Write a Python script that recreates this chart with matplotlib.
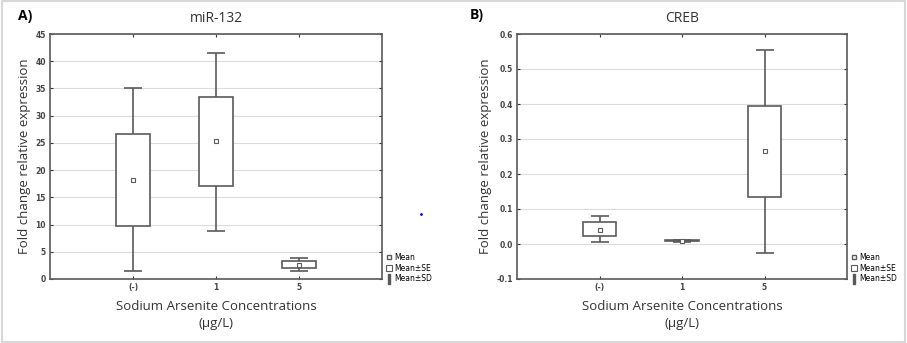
import matplotlib.pyplot as plt
from matplotlib.lines import Line2D
from matplotlib.patches import Rectangle

plt.rcParams['font.family'] = ['Open Sans', 'DejaVu Sans']

categories = ['(-)', '1', '5']

# miR-132
mir_mean = [18.2, 25.3, 2.6]
mir_se_lo = [9.8, 17.1, 2.1]
mir_se_hi = [26.7, 33.4, 3.3]
mir_sd_lo = [1.4, 8.9, 1.5]
mir_sd_hi = [35.0, 41.6, 3.9]

# CREB
creb_mean = [0.040, 0.009, 0.265]
creb_se_lo = [0.022, 0.008, 0.135]
creb_se_hi = [0.062, 0.011, 0.395]
creb_sd_lo = [0.005, 0.007, -0.027]
creb_sd_hi = [0.080, 0.012, 0.555]

edge = '#5a5a5a'

fig = plt.figure(figsize=(9.07, 3.43), dpi=100)
fig.patches.append(Rectangle((0.002, 0.004), 0.996, 0.992, transform=fig.transFigure,
                             fill=False, edgecolor='#d8d8d8', lw=1.5))


def draw_panel(ax, mean, se_lo, se_hi, sd_lo, sd_hi, ylim, yticks, yfmt):
    x = [1, 2, 3]
    yerr = [[m - l for m, l in zip(mean, sd_lo)], [h - m for m, h in zip(mean, sd_hi)]]
    ax.errorbar(x, mean, yerr=yerr, fmt='none', ecolor=edge, elinewidth=1.2,
                capsize=6.5, capthick=1.2, zorder=2)
    ax.bar(x, [h - l for h, l in zip(se_hi, se_lo)], bottom=se_lo, width=0.41,
           color='white', edgecolor=edge, linewidth=1.2, zorder=3)
    ax.plot(x, mean, 's', ms=3, mfc='white', mec=edge, mew=0.8, zorder=4)
    ax.set_xlim(0, 4)
    ax.set_ylim(*ylim)
    ax.set_xticks(x)
    ax.set_xticklabels(categories)
    ax.set_yticks(yticks)
    ax.set_yticklabels([yfmt.format(v) for v in yticks])
    ax.yaxis.grid(True, color='#dcdcdc', lw=0.8)
    ax.set_axisbelow(True)
    ax.tick_params(labelsize=5.5, length=2, width=0.8, colors='#333333',
                   top=True, right=True, direction='in', pad=3)
    for lbl in ax.get_xticklabels() + ax.get_yticklabels():
        lbl.set_fontfamily(['DejaVu Sans'])
        lbl.set_fontweight('bold')
        lbl.set_color('#444444')
    for s in ax.spines.values():
        s.set_color(edge)
        s.set_linewidth(1.2)
    ax.set_xlabel('Sodium Arsenite Concentrations\n(µg/L)', fontsize=9.5,
                  color='#333333', labelpad=6, linespacing=1.3)
    ax.set_ylabel('Fold change relative expression', fontsize=9.5,
                  color='#333333', labelpad=3)
    handles = [Line2D([], [], marker='s', ms=3, mfc='white', mec=edge, ls='none'),
               Rectangle((0, 0), 1, 1, fc='white', ec=edge, lw=0.8),
               Line2D([], [], marker='$\\mathrm{I}$', ms=7, color=edge, ls='none')]
    ax.legend(handles, ['Mean', 'Mean±SE', 'Mean±SD'], loc='lower left',
              bbox_to_anchor=(0.995, -0.04), frameon=False,
              handlelength=0.8, handleheight=0.9, handletextpad=0.3,
              labelspacing=0.2, borderpad=0.2,
              prop={'family': 'DejaVu Sans', 'size': 5.5})


ax1 = fig.add_axes([50 / 907, 1 - 279 / 343, 332 / 907, 245 / 343])
draw_panel(ax1, mir_mean, mir_se_lo, mir_se_hi, mir_sd_lo, mir_sd_hi,
           (0, 45), [0, 5, 10, 15, 20, 25, 30, 35, 40, 45], '{:.0f}')
ax1.set_title('miR-132', fontsize=10, color='#333333', pad=9)

ax2 = fig.add_axes([517 / 907, 1 - 279 / 343, 330 / 907, 245 / 343])
draw_panel(ax2, creb_mean, creb_se_lo, creb_se_hi, creb_sd_lo, creb_sd_hi,
           (-0.1, 0.6), [-0.1, 0.0, 0.1, 0.2, 0.3, 0.4, 0.5, 0.6], '{:.1f}')
ax2.set_title('CREB', fontsize=10, color='#333333', pad=9)

fig.text(18 / 907, 1 - 16 / 343, 'A)', fontsize=10, fontweight='bold', va='center')
fig.text(470 / 907, 1 - 15 / 343, 'B)', fontsize=10, fontweight='bold', va='center')
fig.add_artist(Line2D([421 / 907], [1 - 214 / 343], marker='o', ms=2, color='blue',
                      mew=0, transform=fig.transFigure))

fig.savefig('out.png', dpi=100)
